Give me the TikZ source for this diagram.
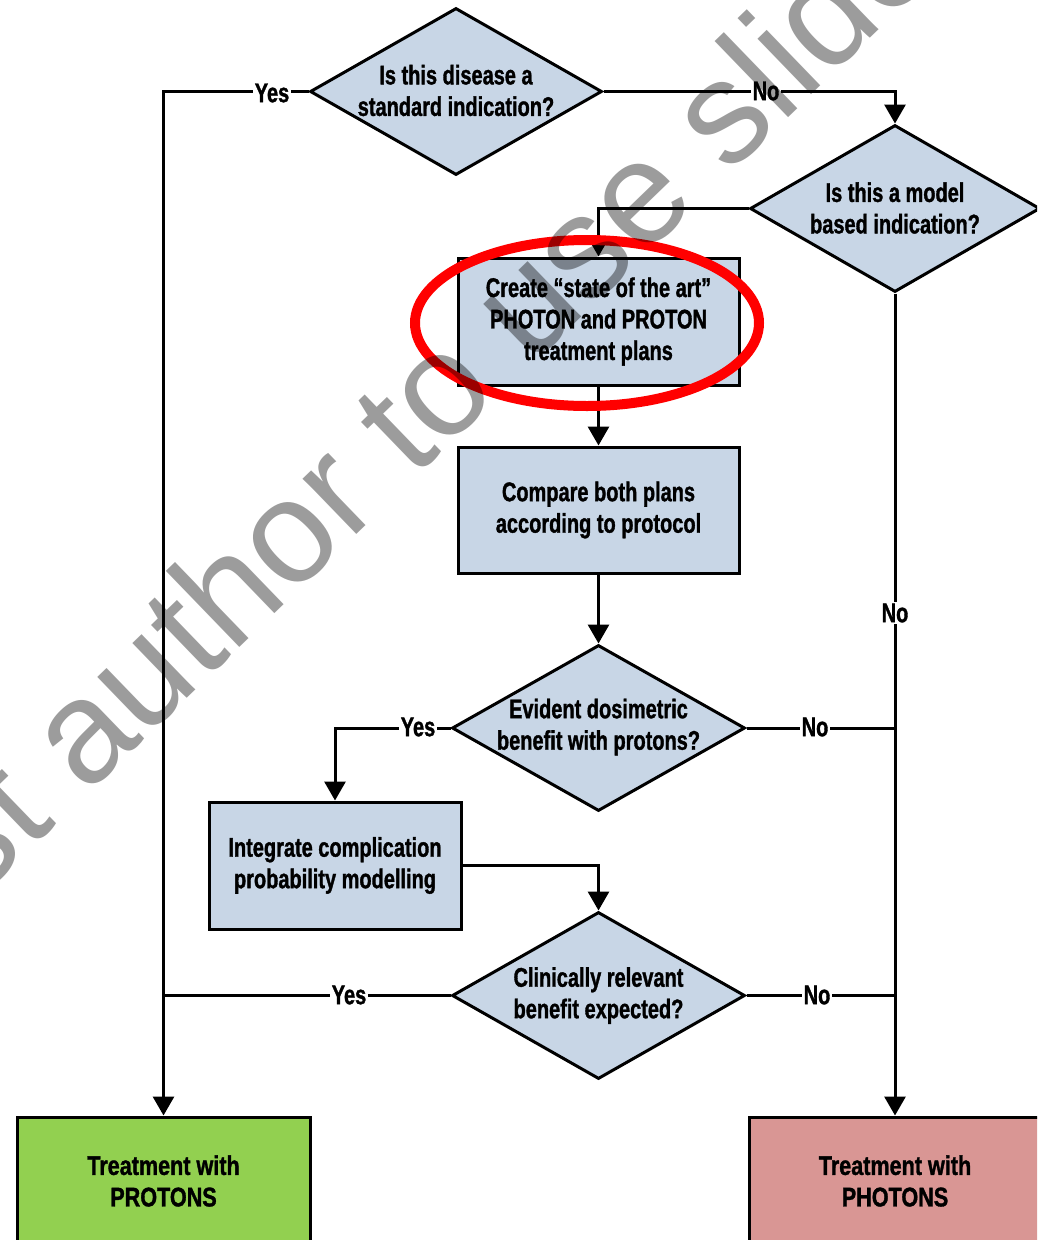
\documentclass[tikz,border=0pt]{standalone}
\usepackage{fontspec}
\setmainfont{Liberation Sans}[FakeStretch=0.74,FakeBold=1.2]
\newfontfamily\outfont{Liberation Sans}[FakeStretch=0.8,FakeBold=1.2]
\newfontfamily\wmfont{Liberation Sans}
\usetikzlibrary{arrows.meta,shapes.geometric}
\definecolor{qfill}{RGB}{200,214,230}
\definecolor{protgreen}{RGB}{146,208,80}
\definecolor{photred}{RGB}{217,150,148}
\begin{document}
\begin{tikzpicture}[x=1pt,y=-1pt,
  every node/.style={font=\bfseries\fontsize{27}{31.5}\selectfont},
  dia/.style={shape=diamond, draw, line width=3pt, fill=qfill, inner sep=0pt},
  box/.style={draw, line width=3pt, fill=qfill, align=center, inner sep=0pt},
  outbox/.style={box, font=\outfont\bfseries\fontsize{27}{31.5}\selectfont},
  qtext/.style={align=center, inner sep=0pt},
  conn/.style={line width=3pt, -{Triangle[width=21pt,length=19pt]}},
  link/.style={line width=3pt},
  lbl/.style={fill=white, inner sep=1.5pt},
  wm/.style={font=\wmfont\fontsize{146}{146}\selectfont, text=black, text opacity=0.39, inner sep=0pt},
]
\useasboundingbox (0,0) rectangle (1037,1240);
\fill[white] (0,0) rectangle (1037,1240);
\clip (0,0) rectangle (1037,1240);

% decision diamonds
\node[dia, minimum width=292pt, minimum height=167pt] (std) at (456,91.5) {};
\node[qtext] (stdt) at (456,90.5) {Is this disease a\\standard indication?};
\node[dia, minimum width=290pt, minimum height=167pt] (model) at (895,208.5) {};
\node[qtext] (modelt) at (895,208) {Is this a model\\based indication?};
\node[dia, minimum width=293pt, minimum height=166pt] (dosi) at (598.5,728) {};
\node[qtext] (dosit) at (598.5,727) {Evident dosimetric\\benefit with protons?};
\node[dia, minimum width=293pt, minimum height=167pt] (clin) at (598.5,995.5) {};
\node[qtext] (clint) at (598.5,995.5) {Clinically relevant\\benefit expected?};

% process boxes
\node[box, minimum width=281pt, minimum height=127pt] (plans) at (598.5,321.5)
  {Create “state of the art”\\PHOTON and PROTON\\treatment plans};
\node[box, minimum width=281pt, minimum height=126pt] (compare) at (598.5,510)
  {Compare both plans\\according to protocol};
\node[box, minimum width=252pt, minimum height=127pt] (ntcp) at (335,865.5)
  {Integrate complication\\probability modelling};

% outcomes
\node[outbox, fill=protgreen, minimum width=293pt, minimum height=128pt] (protons) at (163.5,1181)
  {Treatment with\\PROTONS};
\node[outbox, fill=photred, minimum width=292pt, minimum height=128pt] (photons) at (895,1181)
  {Treatment with\\PHOTONS};

% junctions on the side rails
\coordinate (jdosi) at (895,728);
\coordinate (jclinR) at (895,995.5);
\coordinate (jclinL) at (163.5,995.5);

% connectors
\draw[conn] (std.west) -| (protons.north);
\draw[conn] (std.east) -| (model.north);
\draw[conn] (model.west) -| (plans.north);
\draw[conn] (model.south) -- (photons.north);
\draw[conn] (plans.south) -- (compare.north);
\draw[conn] (compare.south) -- (dosi.north);
\draw[conn] (dosi.west) -| (ntcp.north);
\draw[link] (dosi.east) -- (jdosi);
\draw[conn] (ntcp.east) -| (clin.north);
\draw[link] (clin.west) -- (jclinL);
\draw[link] (clin.east) -- (jclinR);

% branch labels
\node[lbl] (l1) at (272,93) {Yes};
\node[lbl] (l2) at (766,91) {No};
\node[lbl] (l3) at (895,613) {No};
\node[lbl] (l4) at (418,727) {Yes};
\node[lbl] (l5) at (815,727) {No};
\node[lbl] (l6) at (349,995) {Yes};
\node[lbl] (l7) at (817,995) {No};

% highlight ring
\node[draw=red, line width=10pt, ellipse, minimum width=344pt, minimum height=166pt] (ring) at (587,323) {};

% diagonal watermark
\node[wm, anchor=base west, rotate=44] (mark) at (-112,987) {first author to use slides};
\end{tikzpicture}
\end{document}
